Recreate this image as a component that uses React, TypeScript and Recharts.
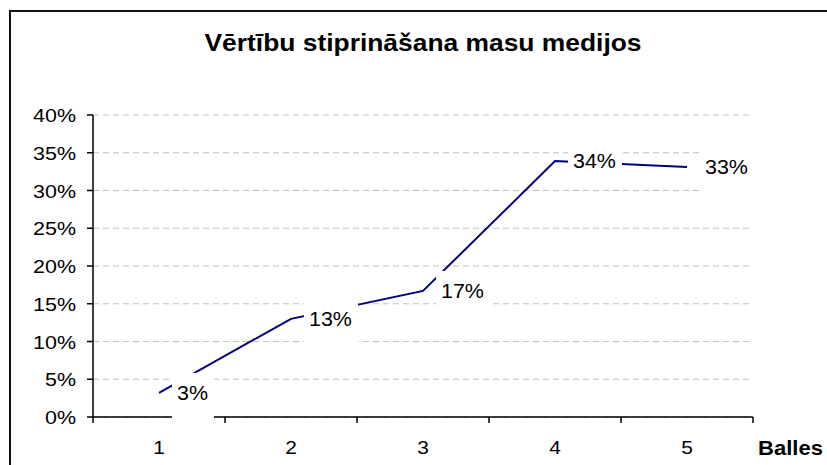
import { LineChart, Line, XAxis, YAxis, CartesianGrid, LabelList } from "recharts";

// ratings 1..5, share of respondents
const categories = [1, 2, 3, 4, 5];
const shares = [0.032, 0.13, 0.167, 0.339, 0.331];
const yTicks = [0, 0.05, 0.1, 0.15, 0.2, 0.25, 0.3, 0.35, 0.4];
const boundaryTicks = [0.5, 1.5, 2.5, 3.5, 4.5, 5.5];
const chartTitle = "Vērtību stiprināšana masu medijos";
const xAxisTitle = "Balles";

const data = categories.map((c, i) => ({ balle: c, share: shares[i] }));

const FONT = '"Liberation Sans", Arial, sans-serif';
const AXIS = { stroke: "#000", strokeWidth: 1.5 };
const pct = (v: number) => `${Math.round(v * 100)}%`;

function YTick({ x, y, payload }: any) {
  return (
    <text transform={`translate(${x},${y + 7}) scale(1.13,1)`} textAnchor="end" fontSize={19} fontFamily={FONT} fill="#000">
      {pct(payload.value)}
    </text>
  );
}

function XTick({ x, y, payload }: any) {
  return (
    <text transform={`translate(${x},${y + 36}) scale(1.1,1)`} textAnchor="middle" fontSize={19} fontFamily={FONT} fill="#000">
      {payload.value}
    </text>
  );
}

function NoTick() {
  return <g />;
}

function PointLabel({ x, y, value }: any) {
  const text = pct(value);
  const w = 19.5 * 1.1 * (0.556 * (text.length - 1) + 0.889) + 11;
  return (
    <g>
      <rect x={x + 13} y={y - 20} width={w} height={47} fill="#fff" />
      <text transform={`translate(${x + 18},${y + 7}) scale(1.1,1)`} fontSize={19.5} fontFamily={FONT} fill="#000">
        {text}
      </text>
    </g>
  );
}

function AxisTitle({ viewBox }: any) {
  return (
    <text
      transform={`translate(${viewBox.x + viewBox.width + 5},${viewBox.y + 37}) scale(1.05,1)`}
      fontSize={21}
      fontWeight="bold"
      fontFamily={FONT}
      fill="#000"
    >
      {xAxisTitle}
    </text>
  );
}

export default function App() {
  return (
    <div style={{ position: "absolute", left: 0, top: 0, width: 827, height: 465, background: "#fff", overflow: "hidden" }}>
      <LineChart width={827} height={465} data={data} margin={{ top: 115, right: 74, left: 0, bottom: 0 }}>
        <CartesianGrid xAxisId="main" vertical={false} stroke="#c0c0c0" strokeDasharray="6 4" />
        <XAxis
          xAxisId="bounds"
          dataKey="balle"
          type="number"
          domain={[0.5, 5.5]}
          ticks={boundaryTicks}
          interval={0}
          height={1}
          tick={<NoTick />}
          tickSize={6}
          stroke="#000"
          axisLine={AXIS}
          tickLine={AXIS}
        />
        <XAxis
          xAxisId="main"
          dataKey="balle"
          type="number"
          domain={[0.5, 5.5]}
          ticks={categories}
          interval={0}
          height={47}
          axisLine={false}
          tickLine={false}
          tickSize={0}
          tickMargin={0}
          tick={<XTick />}
          label={{ content: <AxisTitle /> }}
        />
        <YAxis
          domain={[0, 0.4]}
          ticks={yTicks}
          interval={0}
          width={93}
          tickSize={6}
          tickMargin={11}
          stroke="#000"
          axisLine={AXIS}
          tickLine={AXIS}
          tick={<YTick />}
        />
        <Line
          xAxisId="main"
          type="linear"
          dataKey="share"
          stroke="#000080"
          strokeWidth={2}
          dot={false}
          isAnimationActive={false}
        >
          <LabelList dataKey="share" content={<PointLabel />} />
        </Line>
      </LineChart>
      <svg width={827} height={465} style={{ position: "absolute", left: 0, top: 0, pointerEvents: "none" }}>
        <path d="M10 465 V11 H827" fill="none" stroke="#111" strokeWidth={2} />
        <text
          transform="translate(423,51) scale(1.1,1)"
          textAnchor="middle"
          fontSize={24}
          fontWeight="bold"
          fontFamily={FONT}
          fill="#000"
        >
          {chartTitle}
        </text>
      </svg>
    </div>
  );
}
